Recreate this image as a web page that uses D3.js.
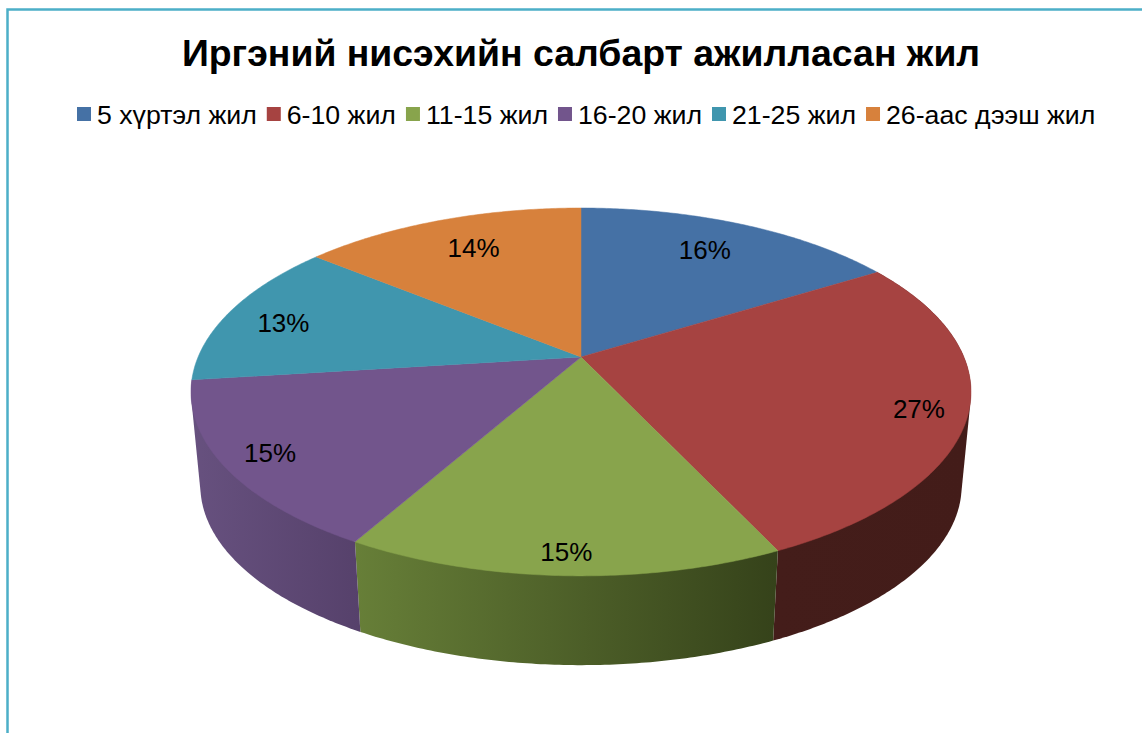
<!DOCTYPE html>
<html>
<head>
<meta charset="utf-8">
<script src="https://cdn.jsdelivr.net/npm/d3@7"></script>
<style>
  html, body { margin: 0; padding: 0; background: #fff; }
  svg { display: block; font-family: "Liberation Sans", Arial, sans-serif; }
</style>
</head>
<body>
<div id="chart"></div>
<script>
const titleText = 'Иргэний нисэхийн салбарт ажилласан жил'
const categories = ['5 хүртэл жил', '6-10 жил', '11-15 жил', '16-20 жил', '21-25 жил', '26-аас дээш жил']
// shares estimated from the slice edges, the labels show them rounded
const values = [16.2, 26.8, 15.2, 14.8, 12.9, 14.1]
const colors = ['#4571a5', '#a64341', '#88a44c', '#72558c', '#4096ae', '#d7813c']

const width = 1142
const height = 733

// wall shading per slice: colour at the left and right end of the wall
const wallShade = {
    1: ['#441d1a', '#431c19'],
    2: ['#677f38', '#35421a'],
    3: ['#67517f', '#56416b']
}
// Excel moved the labels by hand, so they sit off the radius a bit
const labelNudge = [[-8, 2], [31, 10], [-1, 28], [-33, 10], [-15, 4], [8, 4]]

const svg = d3.select('#chart').append('svg')
    .attr('width', width)
    .attr('height', height)
const defs = svg.append('defs')

svg.append('path')
    .attr('d', `M1142,9.5H7.5V733`)
    .attr('fill', 'none')
    .attr('stroke', '#4cafc8')
    .attr('stroke-width', 2.5)

svg.append('text')
    .attr('x', 581)
    .attr('y', 66)
    .attr('text-anchor', 'middle')
    .attr('font-size', 37.4)
    .attr('font-weight', 'bold')
    .attr('fill', '#000')
    .text(titleText)

// legend, laid out from the measured text widths
let legendX = 77
categories.forEach((name, i) => {
    svg.append('rect')
        .attr('x', legendX)
        .attr('y', 107)
        .attr('width', 14)
        .attr('height', 14)
        .attr('fill', colors[i])
    const label = svg.append('text')
        .attr('x', legendX + 20)
        .attr('y', 124)
        .attr('font-size', 26.7)
        .attr('fill', '#000')
        .text(name)
    legendX += 20 + label.node().getComputedTextLength() + 10
})

// perspective disc: unit circle (u, v) with v pointing at the viewer
const cx = 581
const topY = 357
const scaleU = 382.9
const scaleV = 177.3
const persp = 0.19
const baseY = 451.5
const baseScale = 0.976

function plate(angle, r){
    const u = r * Math.sin(angle)
    const v = -r * Math.cos(angle)
    const w = 1 - persp * v
    return [scaleU * u / w, scaleV * v / w]
}
const topPoint = (angle, r = 1) => {
    const p = plate(angle, r)
    return [cx + p[0], topY + p[1]]
}
const basePoint = (angle) => {
    const p = plate(angle, 1)
    return [cx + p[0] * baseScale, baseY + p[1] * baseScale]
}
function arcAngles(d){
    const steps = Math.ceil((d.endAngle - d.startAngle) / 0.01)
    return d3.range(steps + 1).map(i => d.startAngle + (d.endAngle - d.startAngle) * i / steps)
}

const slices = d3.pie().sort(null).value(d => d)(values)
const line = d3.line()

// walls first, the top face covers what is left over at the back
const walls = svg.append('g')
slices.forEach((d, i) => {
    if(!wallShade[i]) return
    const angles = arcAngles(d)
    const tops = angles.map(a => topPoint(a))
    const bases = angles.map(a => basePoint(a))
    // hull so the silhouette between top and base rim is filled too
    const hull = d3.polygonHull(tops.concat(bases))
    const xs = d3.extent(hull, p => p[0])
    const grad = defs.append('linearGradient')
        .attr('id', `wall-${i}`)
        .attr('gradientUnits', 'userSpaceOnUse')
        .attr('x1', xs[0]).attr('y1', 0)
        .attr('x2', xs[1]).attr('y2', 0)
    grad.append('stop').attr('offset', 0).attr('stop-color', wallShade[i][0])
    grad.append('stop').attr('offset', 1).attr('stop-color', wallShade[i][1])
    walls.append('path')
        .attr('d', line(hull) + 'Z')
        .attr('fill', `url(#wall-${i})`)
})

svg.append('g')
    .selectAll('path')
    .data(slices)
    .join('path')
    .attr('d', d => line([[cx, topY]].concat(arcAngles(d).map(a => topPoint(a)))) + 'Z')
    .attr('fill', (d, i) => colors[i])
    .attr('stroke', (d, i) => colors[i])
    .attr('stroke-width', 0.5)

svg.append('g')
    .selectAll('text')
    .data(slices)
    .join('text')
    .attr('x', (d, i) => topPoint((d.startAngle + d.endAngle) / 2, 0.8)[0] + labelNudge[i][0])
    .attr('y', (d, i) => topPoint((d.startAngle + d.endAngle) / 2, 0.8)[1] + labelNudge[i][1] + 9)
    .attr('text-anchor', 'middle')
    .attr('font-size', 26)
    .attr('fill', '#000')
    .text(d => `${Math.round(d.value)}%`)
</script>
</body>
</html>
